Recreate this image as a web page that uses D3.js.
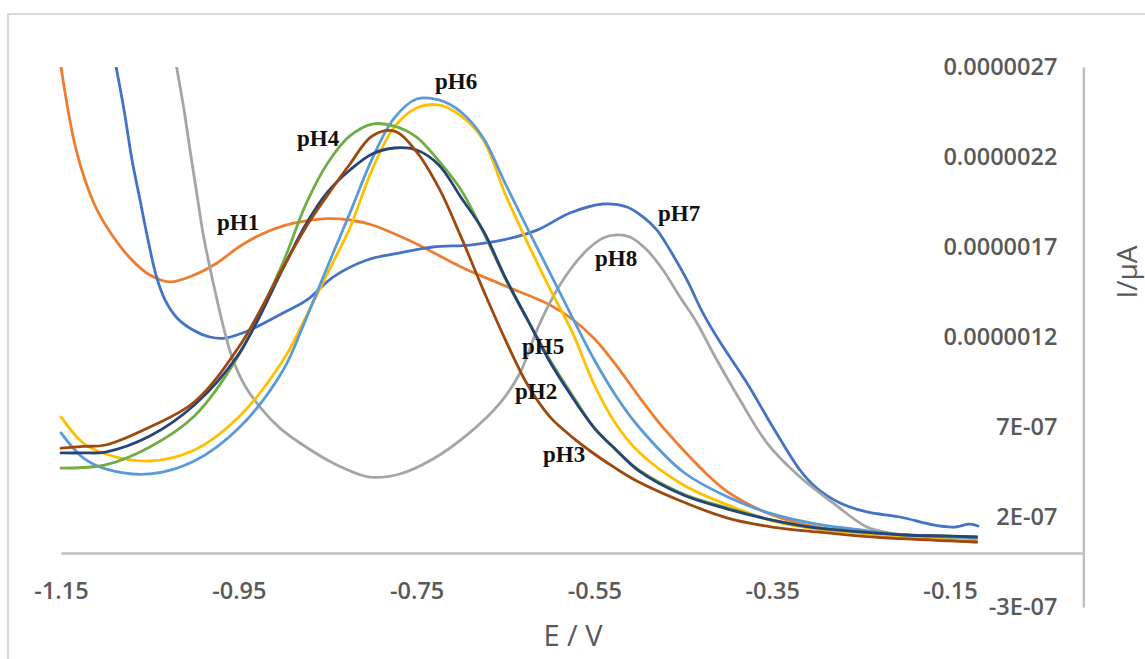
<!DOCTYPE html>
<html>
<head>
<meta charset="utf-8">
<script src="https://cdn.jsdelivr.net/npm/d3@7"></script>
<style>
  html, body { margin: 0; padding: 0; background: #fff; }
  svg { display: block; }
</style>
</head>
<body>
<svg id="chart" width="1145" height="659"></svg>
<script>
// ---------------- DATA (I in units of 1e-6 A, E in V) ----------------
const xTickValues = [-1.15, -0.95, -0.75, -0.55, -0.35, -0.15];
const xTickLabels = ["-1.15", "-0.95", "-0.75", "-0.55", "-0.35", "-0.15"];
const yTickValues = [-0.3, 0.2, 0.7, 1.2, 1.7, 2.2, 2.7];
const yTickLabels = ["-3E-07", "2E-07", "7E-07", "0.0000012", "0.0000017", "0.0000022", "0.0000027"];

// common potential grid for the five "normal" curves
const E_grid = [-1.15,-1.125,-1.10,-1.05,-1.00,-0.95,-0.90,-0.875,-0.85,-0.825,-0.80,-0.775,-0.75,-0.725,-0.70,-0.675,-0.65,-0.625,-0.60,-0.575,-0.55,-0.525,-0.50,-0.45,-0.40,-0.35,-0.30,-0.25,-0.20,-0.15,-0.12];

const I_pH2 = [0.583,0.592,0.600,0.700,0.839,1.144,1.589,1.806,1.989,2.161,2.317,2.344,2.228,2.028,1.756,1.461,1.183,0.933,0.756,0.644,0.550,0.467,0.394,0.283,0.194,0.144,0.117,0.094,0.078,0.067,0.061];
const I_pH3 = [0.556,0.556,0.561,0.650,0.822,1.106,1.583,1.822,2.006,2.128,2.217,2.250,2.239,2.156,1.975,1.790,1.528,1.294,1.061,0.867,0.694,0.570,0.456,0.322,0.244,0.183,0.139,0.117,0.100,0.094,0.089];
const I_pH4 = [0.472,0.475,0.489,0.589,0.761,1.100,1.617,1.933,2.167,2.317,2.383,2.372,2.311,2.178,2.017,1.783,1.522,1.294,1.072,0.878,0.694,0.570,0.461,0.328,0.250,0.183,0.139,0.117,0.100,0.094,0.089];
const I_pH5 = [0.756,0.611,0.550,0.511,0.572,0.756,1.072,1.306,1.556,1.806,2.130,2.367,2.472,2.489,2.428,2.294,1.990,1.722,1.467,1.228,0.933,0.711,0.561,0.378,0.267,0.178,0.133,0.111,0.094,0.083,0.078];
const I_pH6 = [0.667,0.528,0.467,0.439,0.511,0.694,1.017,1.294,1.594,1.889,2.190,2.417,2.522,2.517,2.450,2.306,2.050,1.800,1.556,1.311,1.072,0.867,0.700,0.450,0.311,0.217,0.161,0.128,0.100,0.089,0.083];

// curves with their own potential samples
const E_pH1 = [-1.15,-1.1421,-1.1343,-1.123,-1.1095,-1.0926,-1.0724,-1.05,-1.0274,-1.00,-0.975,-0.95,-0.925,-0.90,-0.875,-0.85,-0.825,-0.80,-0.75,-0.70,-0.65,-0.60,-0.575,-0.55,-0.525,-0.50,-0.475,-0.45,-0.425,-0.40,-0.35,-0.30,-0.25,-0.20,-0.15,-0.12];
const I_pH1 = [2.70,2.461,2.267,2.072,1.906,1.767,1.639,1.544,1.506,1.545,1.610,1.700,1.770,1.817,1.845,1.858,1.850,1.822,1.717,1.589,1.483,1.378,1.300,1.190,1.040,0.870,0.710,0.572,0.445,0.339,0.211,0.144,0.111,0.089,0.072,0.061];

const E_pH7 = [-1.088,-1.0791,-1.0701,-1.0611,-1.0521,-1.0431,-1.033,-1.0195,-1.0015,-0.9824,-0.9655,-0.9374,-0.9003,-0.8733,-0.844,-0.8058,-0.7687,-0.7316,-0.6899,-0.6528,-0.6146,-0.5775,-0.5403,-0.5133,-0.4953,-0.4796,-0.465,-0.4459,-0.4279,-0.4087,-0.3784,-0.35,-0.3188,-0.30,-0.2737,-0.2434,-0.2062,-0.1691,-0.1466,-0.1275,-0.1185];
const I_pH7 = [2.70,2.461,2.183,1.961,1.739,1.544,1.406,1.306,1.239,1.200,1.194,1.239,1.333,1.406,1.533,1.628,1.667,1.700,1.711,1.739,1.794,1.889,1.939,1.922,1.867,1.794,1.683,1.517,1.333,1.172,0.944,0.706,0.461,0.361,0.278,0.228,0.200,0.156,0.144,0.160,0.150];

const E_pH8 = [-1.020,-1.0116,-1.0049,-0.997,-0.9903,-0.9824,-0.9745,-0.9655,-0.9565,-0.943,-0.9262,-0.9037,-0.8812,-0.844,-0.8024,-0.7687,-0.7316,-0.6933,-0.6562,-0.6337,-0.6146,-0.5966,-0.5775,-0.5583,-0.5403,-0.5246,-0.51,-0.4908,-0.4728,-0.4537,-0.4346,-0.4166,-0.3862,-0.3558,-0.3187,-0.2816,-0.2434,-0.2175,-0.1837,-0.12];
const I_pH8 = [2.70,2.461,2.239,1.989,1.778,1.583,1.406,1.222,1.072,0.928,0.811,0.694,0.611,0.500,0.422,0.439,0.522,0.656,0.833,1.000,1.239,1.422,1.572,1.683,1.750,1.767,1.756,1.683,1.572,1.422,1.278,1.111,0.850,0.611,0.422,0.278,0.144,0.111,0.094,0.083];

const seriesNames  = ["pH1","pH7","pH8","pH5","pH6","pH4","pH3","pH2"];
const seriesColors = ["#ED7D31","#4472C4","#A5A5A5","#FFC000","#5B9BD5","#70AD47","#264478","#9E480E"];
const seriesE = [E_pH1, E_pH7, E_pH8, E_grid, E_grid, E_grid, E_grid, E_grid];
const seriesI = [I_pH1, I_pH7, I_pH8, I_pH5, I_pH6, I_pH4, I_pH3, I_pH2];

// annotation labels (anchor in data units)
const labelText = ["pH1","pH2","pH3","pH4","pH5","pH6","pH7","pH8"];
const labelE    = [-0.9745,-0.6393,-0.6078,-0.8845,-0.6314,-0.7293,-0.4785,-0.5493];
const labelI    = [1.794, 0.856, 0.506, 2.261, 1.106, 2.578, 1.844, 1.594];

// ---------------- DRAW ----------------
const svg = d3.select("#chart");

// outer chart border
svg.append("rect")
  .attr("x", 8).attr("y", 14).attr("width", 1200).attr("height", 700)
  .attr("fill", "none").attr("stroke", "#d9d9d9").attr("stroke-width", 2);

const x = d3.scaleLinear().domain([-1.15, 0]).range([61, 61 + 1.15 * 889]);
const y = d3.scaleLinear().domain([-0.3, 2.7]).range([607, 67]);

// clip for plot area
svg.append("defs").append("clipPath").attr("id", "plotclip")
  .append("rect")
  .attr("x", x(-1.15) - 5).attr("y", y(2.7))
  .attr("width", x(0) - x(-1.15) + 10).attr("height", y(-0.3) - y(2.7));

const axisFont = "'Open Sans', 'Liberation Sans', Arial, sans-serif";

// X axis (crosses at I = 0)
const xAxis = d3.axisBottom(x)
  .tickValues(xTickValues)
  .tickFormat((d, i) => xTickLabels[i])
  .tickSize(0).tickPadding(29);
const gx = svg.append("g").attr("transform", `translate(0,${y(0)})`).call(xAxis);
gx.select(".domain").attr("stroke", "#bfbfbf").attr("stroke-width", 2.5);
gx.selectAll("text").attr("font-family", axisFont).attr("font-size", 23.5)
  .attr("font-weight", 600).attr("fill", "#595959");

// Y axis (crosses at E = 0, on the right)
const yAxis = d3.axisLeft(y)
  .tickValues(yTickValues)
  .tickFormat((d, i) => yTickLabels[i])
  .tickSize(0).tickPadding(26);
const gy = svg.append("g").attr("transform", `translate(${x(0)},0)`).call(yAxis);
gy.select(".domain").attr("stroke", "#bfbfbf").attr("stroke-width", 2.5);
gy.selectAll("text").attr("font-family", axisFont).attr("font-size", 23.5)
  .attr("font-weight", 600).attr("fill", "#595959");

// Axis titles
svg.append("text").attr("x", 573).attr("y", 646).attr("text-anchor", "middle")
  .attr("font-family", axisFont).attr("font-size", 29).attr("fill", "#595959")
  .text("E / V");
svg.append("text")
  .attr("transform", `translate(1137,272) rotate(-90)`)
  .attr("text-anchor", "middle")
  .attr("font-family", axisFont).attr("font-size", 28).attr("fill", "#595959")
  .text("I/µA");

// curves
const line = d3.line()
  .x(d => x(d[0])).y(d => y(d[1]))
  .curve(d3.curveCatmullRom.alpha(0.5));

const gLines = svg.append("g").attr("clip-path", "url(#plotclip)");
seriesNames.forEach((name, k) => {
  const pts = seriesE[k].map((e, i) => [e, seriesI[k][i]]);
  gLines.append("path")
    .datum(pts)
    .attr("d", line)
    .attr("fill", "none")
    .attr("stroke", seriesColors[k])
    .attr("stroke-width", 2.8)
    .attr("stroke-linejoin", "round")
    .attr("stroke-linecap", "round");
});

// labels
labelText.forEach((t, i) => {
  svg.append("text")
    .attr("x", x(labelE[i])).attr("y", y(labelI[i]))
    .attr("font-family", "'Liberation Serif', 'Times New Roman', serif")
    .attr("font-weight", "bold").attr("font-size", 23)
    .attr("fill", "#111")
    .text(t);
});
</script>
</body>
</html>
